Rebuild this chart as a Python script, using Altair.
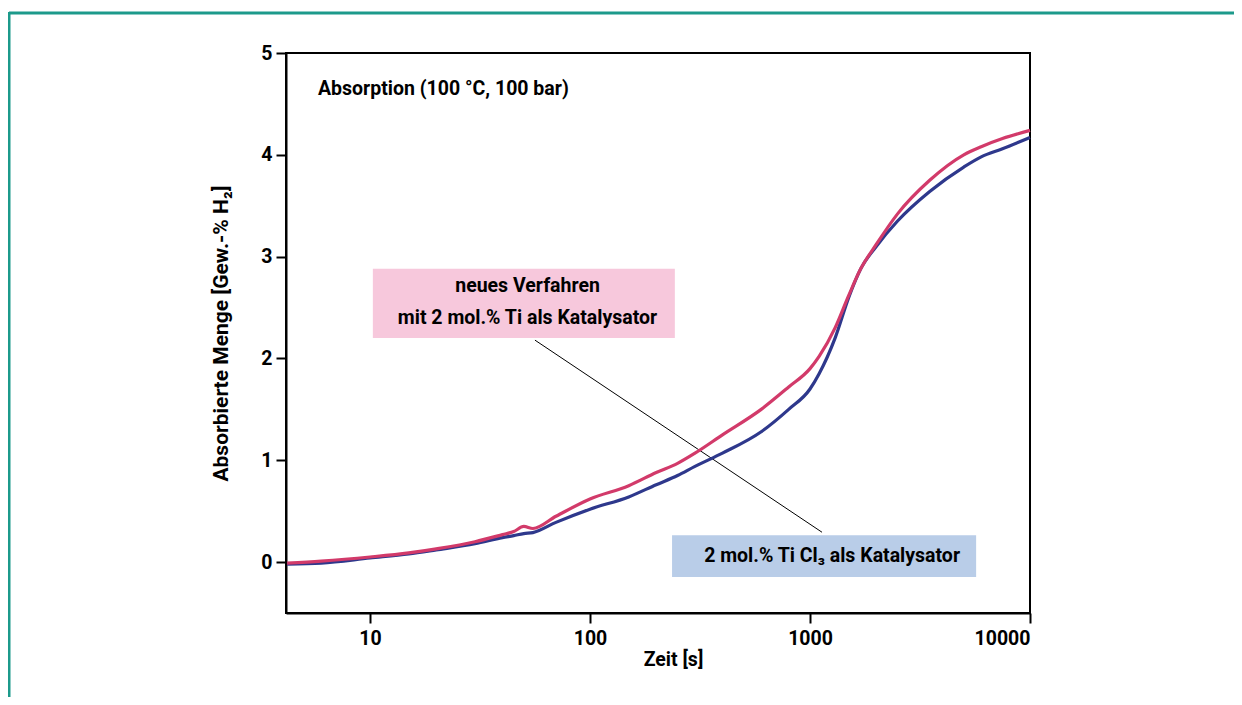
import altair as alt
import pandas as pd

# ---- data ----
time_s = [4.2, 6, 10, 15, 20, 30, 40, 45, 50, 55, 70, 100, 150, 200, 250, 300,
          400, 600, 800, 1000, 1100, 1300, 1500, 1700, 2000, 2500, 3500, 5000,
          6000, 7500, 10000]
neu_ti = [-0.01, 0.01, 0.05, 0.09, 0.13, 0.20, 0.27, 0.30, 0.35, 0.33, 0.45,
          0.62, 0.75, 0.88, 0.97, 1.07, 1.25, 1.50, 1.72, 1.90, 2.02, 2.30,
          2.62, 2.88, 3.12, 3.42, 3.75, 4.00, 4.08, 4.16, 4.24]
ticl3 = [-0.02, -0.01, 0.04, 0.08, 0.12, 0.18, 0.24, 0.26, 0.28, 0.29, 0.39,
         0.52, 0.64, 0.76, 0.85, 0.94, 1.07, 1.28, 1.50, 1.70, 1.85, 2.20,
         2.60, 2.88, 3.10, 3.35, 3.64, 3.88, 3.98, 4.06, 4.17]
series_names = ["neues Verfahren", "2 mol.% Ti Cl3"]
series_colors = ["#d23a6a", "#2e388c"]

x_ticks = [10, 100, 1000, 10000]
y_ticks = [0, 1, 2, 3, 4, 5]

# annotation boxes (data units)
box_x = [10.3, 236]
box_x2 = [243, 5690]
box_y = [2.88, 0.264]
box_y2 = [2.20, -0.147]
box_fill = ["#f7c8dc", "#b9cde8"]

# annotation texts
ann_text = ["Absorption (100 °C, 100 bar)", "neues Verfahren",
            "mit 2 mol.% Ti als Katalysator", "2 mol.% Ti Cl₃ als Katalysator"]
ann_x = [5.8, 52, 52, 1260]
ann_y = [4.65, 2.71, 2.40, 0.06]
ann_align = ["left", "center", "center", "center"]

# leader line
lead_x = [56.2, 1134]
lead_y = [2.18, 0.293]

FONT = "Roboto, Liberation Sans, sans-serif"
FS = 19.5

rows = []
for t, a, b in zip(time_s, neu_ti, ticl3):
    rows.append({"t": t, "v": b, "s": series_names[1]})
for t, a, b in zip(time_s, neu_ti, ticl3):
    rows.append({"t": t, "v": a, "s": series_names[0]})
df = pd.DataFrame(rows)

xscale = alt.Scale(type="log", domain=[4.15, 10000], nice=False)
yscale = alt.Scale(domain=[-0.5, 5], nice=False, zero=False)

xax = alt.Axis(values=x_ticks, format="d", title="Zeit [s]", grid=False,
               tickSize=10, labelPadding=6, titlePadding=3, titleX=387)
yax = alt.Axis(values=y_ticks, format="d", title="Absorbierte Menge [Gew.-% H₂]",
               grid=False, tickSize=10, labelPadding=4, titlePadding=29,
               titleFontSize=21)

boxes = alt.Chart(pd.DataFrame({"x": box_x, "x2": box_x2, "y": box_y, "y2": box_y2,
                                "f": box_fill})).mark_rect().encode(
    x=alt.X("x:Q", scale=xscale, axis=xax),
    x2="x2:Q",
    y=alt.Y("y:Q", scale=yscale, axis=yax),
    y2="y2:Q",
    color=alt.Color("f:N", scale=None),
)

lines = alt.Chart(df).mark_line(strokeWidth=3.2, interpolate="monotone").encode(
    x=alt.X("t:Q", scale=xscale),
    y=alt.Y("v:Q", scale=yscale),
    color=alt.Color("s:N", scale=alt.Scale(domain=series_names, range=series_colors),
                    legend=None),
    order=alt.Order("t:Q"),
)

leader = alt.Chart(pd.DataFrame({"x": [lead_x[0]], "x2": [lead_x[1]],
                                 "y": [lead_y[0]], "y2": [lead_y[1]]})).mark_rule(
    color="black", strokeWidth=1).encode(
    x=alt.X("x:Q", scale=xscale), x2="x2:Q",
    y=alt.Y("y:Q", scale=yscale), y2="y2:Q")

texts = alt.Chart(pd.DataFrame({"x": ann_x, "y": ann_y, "txt": ann_text,
                                "al": ann_align})).encode(
    x=alt.X("x:Q", scale=xscale),
    y=alt.Y("y:Q", scale=yscale),
    text="txt:N",
)
texts_left = texts.transform_filter(alt.datum.al == "left").mark_text(
    font=FONT, fontSize=FS, fontWeight="bold", baseline="middle", align="left",
    color="black")
texts_center = texts.transform_filter(alt.datum.al == "center").mark_text(
    font=FONT, fontSize=FS, fontWeight="bold", baseline="middle", align="center",
    color="black")

one = pd.DataFrame({"a": [0]})
frame_top = alt.Chart(one).mark_rule(color="#1c9a8b", strokeWidth=3).encode(
    x=alt.value(-277), x2=alt.value(948), y=alt.value(-40))
frame_left = alt.Chart(one).mark_rule(color="#1c9a8b", strokeWidth=3).encode(
    x=alt.value(-277), y=alt.value(-41), y2=alt.value(660))

chart = alt.layer(boxes, leader, lines, texts_left, texts_center, frame_top,
                  frame_left).properties(
    width=744, height=560,
    autosize=alt.AutoSizeParams(type="none"),
    padding={"left": 278, "top": 45, "right": 204, "bottom": 84},
    background="white",
).configure_view(stroke="black", strokeWidth=2).configure_axis(
    labelFont=FONT, titleFont=FONT, labelFontSize=19.5, titleFontSize=FS,
    labelFontWeight="bold", titleFontWeight="bold", labelColor="black",
    titleColor="black", domainColor="black", domainWidth=2, tickColor="black",
    tickWidth=2,
)

chart.save("out.html", embed_options={"renderer": "svg", "actions": False})
